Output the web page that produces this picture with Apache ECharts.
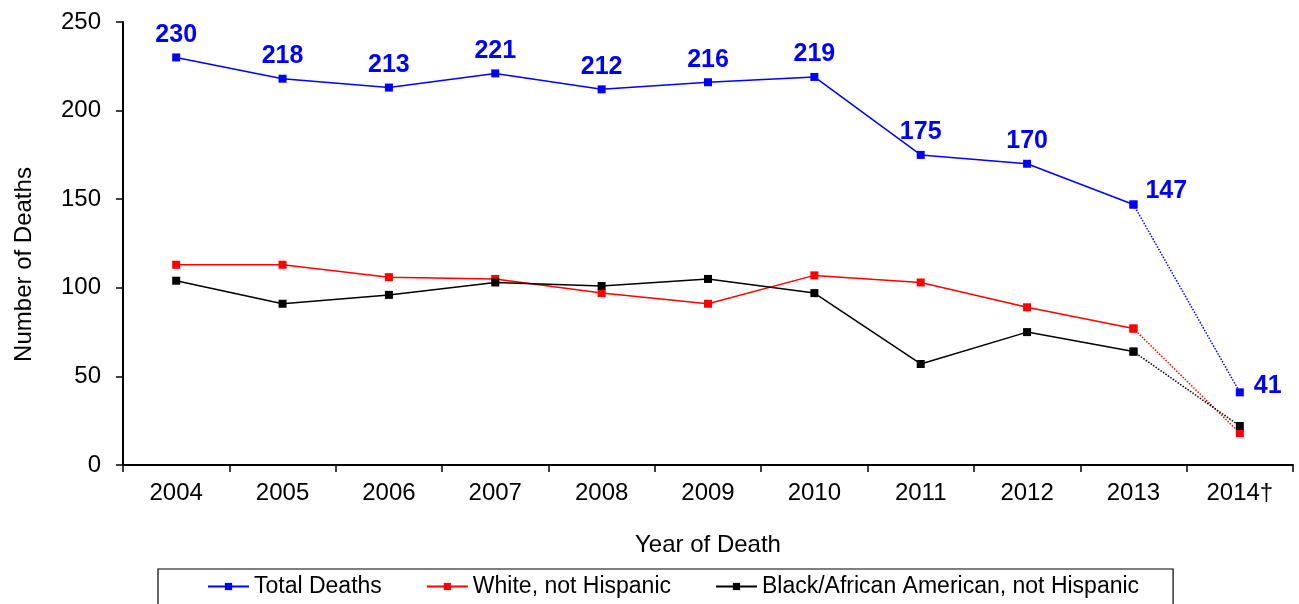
<!DOCTYPE html>
<html>
<head>
<meta charset="utf-8">
<script src="https://cdn.jsdelivr.net/npm/echarts@6/dist/echarts.min.js"></script>
<style>
html,body{margin:0;padding:0;background:#fff;}
#c{width:1299px;height:604px;}
</style>
</head>
<body>
<div id="c"></div>
<script>
const years = ['2004','2005','2006','2007','2008','2009','2010','2011','2012','2013','2014\u2020'];
const totalDeaths = [230,218,213,221,212,216,219,175,170,147,41];
const whiteNotHispanic = [113,113,106,105,97,91,107,103,89,77,18];
const blackNotHispanic = [104,91,96,103,101,105,97,57,75,64,22];
const yTicks = {min:0, max:250, interval:50};
const seriesNames = ['Total Deaths','White, not Hispanic','Black/African American, not Hispanic'];

const FONT = 'Liberation Sans, Arial, Helvetica, sans-serif';
const n = years.length;

function solidPart(arr){ return arr.map((v,i)=> i < n-1 ? v : '-'); }
function dottedPart(arr){ return arr.map((v,i)=> i >= n-2 ? v : '-'); }

const LBL = {color:'#0000FF', fontSize:25, fontWeight:'bold', fontFamily:FONT};
const totalLabelTop = Object.assign({show:true, position:'top', distance:6}, LBL);
const totalSolid = solidPart(totalDeaths).map((v,i)=>{
  if (v === '-') return v;
  if (i === n-2) return {value:v, label:Object.assign({show:true, position:'right', distance:8, offset:[0,-13]}, LBL)};
  return {value:v, label:totalLabelTop};
});
const totalDotted = dottedPart(totalDeaths).map((v,i)=>{
  if (i === n-1) return {value:v, label:Object.assign({show:true, position:'right', distance:10, offset:[0,-6]}, LBL)};
  return v;
});

function mk(name, data, color, dotted){
  return {
    name, type:'line', data, color,
    symbol:'rect', symbolSize:8, showSymbol:true,
    lineStyle:{color, width:1.5, type:dotted?'dotted':'solid'},
    itemStyle:{color},
    label:{show:false},
    emphasis:{disabled:true},
    animation:false,
    connectNulls:false
  };
}

const chart = echarts.init(document.getElementById('c'), null, {renderer:'canvas'});
chart.setOption({
  backgroundColor:'#fff',
  animation:false,
  textStyle:{fontFamily:FONT},
  grid:{left:123, right:6, top:22, bottom:139, containLabel:false},
  legend:{
    data:seriesNames,
    left:158, top:569,
    padding:[6,34,20,49],
    itemGap:44, itemWidth:41, itemHeight:9,
    borderColor:'#000', borderWidth:1.2,
    textStyle:{fontSize:23, color:'#000', fontFamily:FONT},
    selectedMode:false
  },
  xAxis:{
    type:'category', data:years, boundaryGap:true,
    name:'Year of Death', nameLocation:'middle', nameGap:68,
    nameTextStyle:{fontSize:24, color:'#000', fontFamily:FONT},
    axisLine:{lineStyle:{color:'#000', width:2}},
    axisTick:{show:true, length:7, lineStyle:{color:'#000', width:1.5}, alignWithLabel:false},
    axisLabel:{fontSize:24, color:'#000', margin:16, fontFamily:FONT},
    splitLine:{show:false}
  },
  yAxis:{
    type:'value', min:yTicks.min, max:yTicks.max, interval:yTicks.interval,
    name:'Number of Deaths', nameLocation:'middle', nameGap:87,
    nameTextStyle:{fontSize:24, color:'#000', fontFamily:FONT, padding:[0,42,0,0]},
    axisLine:{show:true, lineStyle:{color:'#000', width:2}},
    axisTick:{show:true, length:7, lineStyle:{color:'#000', width:1.5}},
    axisLabel:{fontSize:24, color:'#000', margin:22, fontFamily:FONT},
    splitLine:{show:false}
  },
  series:[
    mk(seriesNames[0], totalSolid, '#0000FF', false),
    mk(seriesNames[0]+' (prelim)', totalDotted, '#0000FF', true),
    mk(seriesNames[1], solidPart(whiteNotHispanic), '#FF0000', false),
    mk(seriesNames[1]+' (prelim)', dottedPart(whiteNotHispanic), '#FF0000', true),
    mk(seriesNames[2], solidPart(blackNotHispanic), '#000000', false),
    mk(seriesNames[2]+' (prelim)', dottedPart(blackNotHispanic), '#000000', true)
  ]
});
</script>
</body>
</html>
